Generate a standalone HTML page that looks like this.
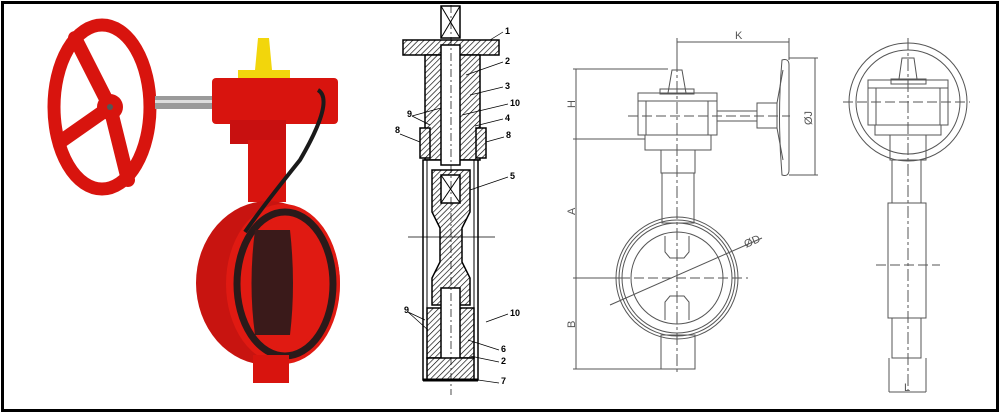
<!DOCTYPE html>
<html><head><meta charset="utf-8"><style>
html,body{margin:0;padding:0;background:#fff}
svg{display:block}
text{font-family:"Liberation Sans",sans-serif}
</style></head><body>
<svg width="1000" height="417" viewBox="0 0 1000 417" xmlns="http://www.w3.org/2000/svg">
<defs>
<pattern id="h" width="4" height="4" patternUnits="userSpaceOnUse" patternTransform="rotate(45)">
<rect width="4" height="4" fill="#fff"/><line x1="0" y1="0" x2="0" y2="4" stroke="#000" stroke-width="1.3"/></pattern>
</defs>
<rect x="0" y="0" width="1000" height="417" fill="#fff"/>
<rect x="2.5" y="2.5" width="995" height="408" fill="none" stroke="#000" stroke-width="3"/>

<!-- PHOTO -->
<g>
<ellipse cx="102" cy="107" rx="48" ry="82" fill="none" stroke="#d8140e" stroke-width="13"/>
<path d="M110 107 L75 38 M110 107 L60 142 M110 107 L128 180" stroke="#d8140e" stroke-width="14" stroke-linecap="round"/>
<circle cx="110" cy="107" r="13" fill="#d8140e"/>
<circle cx="110" cy="107" r="3" fill="#555"/>
<rect x="155" y="96" width="62" height="13" fill="#9a9a9a"/>
<rect x="155" y="100" width="62" height="3" fill="#ddd"/>
<rect x="212" y="78" width="126" height="46" rx="4" fill="#d8140e"/>
<rect x="230" y="120" width="56" height="24" fill="#c81010"/>
<polygon points="238,70 290,70 290,78 238,78" fill="#f2d60c"/>
<polygon points="258,38 269,38 272,70 255,70" fill="#f2d60c"/>
<rect x="248" y="140" width="38" height="62" fill="#d8140e"/>
<ellipse cx="268" cy="283" rx="72" ry="82" fill="#c81410"/>
<ellipse cx="283" cy="284" rx="57" ry="80" fill="#e01a12"/>
<ellipse cx="285" cy="284" rx="48" ry="72" fill="none" stroke="#2a1a1a" stroke-width="7"/>
<ellipse cx="285" cy="284" rx="42" ry="65" fill="#e01a12"/>
<path d="M255 230 Q248 284 255 335 L290 335 Q296 284 290 230 Z" fill="#3a1a1a"/>
<rect x="253" y="355" width="36" height="28" fill="#d8140e"/>
<path d="M318 90 Q335 100 300 160 Q260 210 245 232" fill="none" stroke="#1a1a1a" stroke-width="4"/>
</g>

<!-- CROSS SECTION -->
<g stroke="#000" stroke-width="1.5">
<rect x="441" y="6" width="19" height="32" fill="#fff"/>
<path d="M441 6 L460 38 M460 6 L441 38" stroke-width="1"/>
<rect x="403" y="40" width="96" height="15" fill="url(#h)"/>
<rect x="425" y="55" width="55" height="105" fill="url(#h)"/>
<rect x="420" y="128" width="10" height="30" fill="url(#h)"/>
<rect x="476" y="128" width="10" height="30" fill="url(#h)"/>
<rect x="423" y="160" width="55" height="220" fill="#fff"/>
<rect x="427" y="160" width="47" height="220" fill="none" stroke-width="1"/>
<path d="M432 170 L470 170 L470 212 L462 228 L462 262 L470 278 L470 305 L432 305 L432 278 L440 262 L440 228 L432 212 Z" fill="url(#h)"/>
<rect x="441" y="45" width="19" height="120" fill="#fff"/>
<rect x="441" y="175" width="19" height="28" fill="#fff"/>
<path d="M441 175 L460 203 M460 175 L441 203" stroke-width="1"/>
<rect x="427" y="308" width="47" height="50" fill="url(#h)"/>
<rect x="441" y="288" width="19" height="80" fill="#fff"/>
<rect x="427" y="358" width="47" height="22" fill="url(#h)"/>
<line x1="423" y1="380" x2="478" y2="380" stroke-width="3"/>
</g>
<line x1="408" y1="237" x2="495" y2="237" stroke="#000" stroke-width="0.8"/>
<line x1="451" y1="5" x2="451" y2="395" stroke="#000" stroke-width="0.7" stroke-dasharray="8,3,2,3"/>
<g font-size="9" font-weight="bold" fill="#000">
<text x="505" y="34">1</text><text x="505" y="64">2</text><text x="505" y="89">3</text>
<text x="510" y="106">10</text><text x="505" y="121">4</text><text x="407" y="117">9</text>
<text x="395" y="133">8</text><text x="506" y="138">8</text><text x="510" y="179">5</text>
<text x="404" y="313">9</text><text x="510" y="316">10</text><text x="501" y="352">6</text>
<text x="501" y="364">2</text><text x="501" y="384">7</text>
</g>
<g stroke="#000" stroke-width="0.7" fill="none">
<path d="M503 32 L490 40 M503 62 L466 75 M503 87 L470 95 M508 104 L462 115 M503 119 L475 126 M412 116 L441 108 M412 116 L430 125 M400 134 L420 142 M504 137 L486 142 M508 177 L470 190 M408 312 L425 320 M408 312 L428 330 M508 314 L486 322 M499 350 L468 340 M499 362 L470 356 M499 383 L478 380"/>
</g>

<!-- FRONT VIEW DRAWING -->
<g stroke="#555" stroke-width="1" fill="none">
<line x1="677" y1="42" x2="789" y2="42"/>
<line x1="677" y1="38" x2="677" y2="70"/><line x1="789" y1="38" x2="789" y2="60"/>
<line x1="576" y1="69" x2="576" y2="369"/>
<line x1="573" y1="69" x2="668" y2="69"/>
<line x1="573" y1="139" x2="645" y2="139"/>
<line x1="573" y1="278" x2="620" y2="278"/>
<line x1="573" y1="369" x2="661" y2="369"/>
<polygon points="668,93 672,70 682,70 686,93"/>
<rect x="660" y="89" width="34" height="5"/>
<rect x="638" y="93" width="79" height="8"/>
<rect x="638" y="101" width="79" height="34"/>
<rect x="646" y="101" width="62" height="34"/>
<rect x="645" y="135" width="66" height="15"/>
<rect x="661" y="150" width="34" height="23"/>
<rect x="662" y="173" width="32" height="50"/>
<rect x="717" y="111" width="40" height="10"/>
<rect x="757" y="103" width="20" height="25"/>
<path d="M782 60 Q789 58 789 65 L789 170 Q789 177 782 175 Q777 117 782 60 Z"/>
<path d="M777 103 L783 70 M777 128 L783 160"/>
<line x1="789" y1="58" x2="818" y2="58"/><line x1="789" y1="175" x2="818" y2="175"/>
<line x1="815" y1="58" x2="815" y2="175"/>
<circle cx="677" cy="278" r="61"/><circle cx="677" cy="278" r="58"/><circle cx="677" cy="278" r="55"/>
<circle cx="677" cy="278" r="46"/>
<path d="M665 236 L665 252 L670 258 L684 258 L689 252 L689 236"/>
<path d="M665 320 L665 302 L670 296 L684 296 L689 302 L689 320"/>
<rect x="661" y="335" width="34" height="34"/>
<line x1="610" y1="305" x2="762" y2="238"/>
<line x1="620" y1="278" x2="748" y2="278" stroke-dasharray="10,4"/>
<line x1="677" y1="60" x2="677" y2="375" stroke-dasharray="12,3,3,3"/>
<line x1="628" y1="116" x2="790" y2="116" stroke-dasharray="10,4"/>
</g>
<g fill="#555" font-size="11">
<text x="735" y="39">K</text>
<text transform="translate(575,108) rotate(-90)">H</text>
<text transform="translate(575,215) rotate(-90)">A</text>
<text transform="translate(575,328) rotate(-90)">B</text>
<text transform="translate(812,125) rotate(-90)">ØJ</text>
<text transform="translate(746,248) rotate(-24)">ØD</text>
</g>

<!-- SIDE VIEW -->
<g stroke="#555" stroke-width="1" fill="none">
<circle cx="908" cy="102" r="59"/><circle cx="908" cy="102" r="52"/>
<polygon points="899,79 902,58 914,58 917,79"/>
<rect x="891" y="79" width="35" height="5"/>
<rect x="868" y="80" width="80" height="8"/>
<rect x="868" y="88" width="80" height="37"/>
<rect x="876" y="88" width="64" height="37"/>
<rect x="875" y="125" width="66" height="10"/>
<rect x="890" y="135" width="36" height="25"/>
<rect x="892" y="160" width="29" height="43"/>
<rect x="888" y="203" width="38" height="115"/>
<rect x="892" y="318" width="29" height="40"/>
<line x1="889" y1="358" x2="889" y2="392"/><line x1="926" y1="358" x2="926" y2="392"/>
<line x1="889" y1="392" x2="926" y2="392"/>
<line x1="908" y1="38" x2="908" y2="390" stroke-dasharray="12,3,3,3"/>
<line x1="843" y1="102" x2="970" y2="102" stroke-dasharray="10,4"/>
<line x1="876" y1="265" x2="940" y2="265" stroke-dasharray="10,4"/>
</g>
<text x="904" y="391" fill="#555" font-size="11">L</text>
</svg>
</body></html>
